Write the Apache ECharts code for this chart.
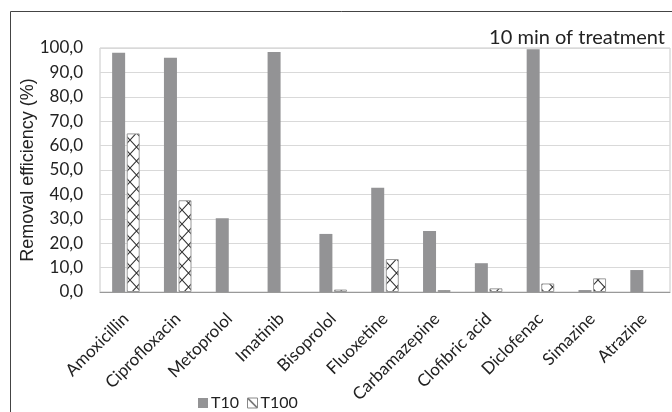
<!DOCTYPE html>
<html><head><meta charset="utf-8">
<script src="https://cdn.jsdelivr.net/npm/echarts@6/dist/echarts.min.js"></script>
<style>html,body{margin:0;padding:0;background:#fff}#c{width:672px;height:412px}</style>
</head><body><div id="c"></div>
<script>
const categories = ['Amoxicillin','Ciprofloxacin','Metoprolol','Imatinib','Bisoprolol','Fluoxetine','Carbamazepine','Clofibric acid','Diclofenac','Simazine','Atrazine'];
const t10 = [98.1, 96.0, 30.2, 98.4, 23.8, 42.7, 25.0, 11.8, 99.5, 0.8, 9.0];
const t100 = [65.0, 37.6, 0, 0, 1.0, 13.5, 0.8, 1.5, 3.5, 5.6, 0];
const seriesNames = ['T10','T100'];
const yTicks = {min: 0, max: 100, interval: 10};

function makePattern(){
  const c = document.createElement('canvas');
  c.width = 13; c.height = 14;
  const g = c.getContext('2d');
  g.fillStyle = '#fff'; g.fillRect(0,0,13,14);
  g.strokeStyle = '#333'; g.lineWidth = 1.1;
  g.beginPath(); g.moveTo(0,0); g.lineTo(13,14); g.moveTo(13,0); g.lineTo(0,14); g.stroke();
  return c;
}
function makeLegendIcon(){
  const c = document.createElement('canvas');
  c.width = 10; c.height = 10;
  const g = c.getContext('2d');
  g.fillStyle = '#fff'; g.fillRect(0,0,10,10);
  g.strokeStyle = '#333'; g.lineWidth = 1.2;
  g.beginPath(); g.moveTo(0,0); g.lineTo(10,10); g.stroke();
  return c;
}
const pat = makePattern();
const chart = echarts.init(document.getElementById('c'), null, {renderer:'canvas'});
const font = 'Lato, "Open Sans", sans-serif';
const txt = '#222';
chart.setOption({
  animation: false,
  title: {text: '10 min of treatment', right: 2, top: 23, textStyle: {fontFamily: font, fontSize: 20, fontWeight: 'normal', color: txt}},
  graphic: [{type:'rect', left: 8, top: 9, shape:{width: 700, height: 420}, style:{fill:'none', stroke:'#444', lineWidth:1}, silent:true}],
  grid: {left: 100, right: 2, top: 48, bottom: 120, show: true, borderColor: '#c8c8c8', borderWidth: 1},
  legend: {left: 193, top: 390, itemWidth: 10, itemHeight: 10, itemGap: 8,
    textStyle: {fontFamily: font, fontSize: 16, color: txt, padding:[0,0,0,-2]},
    data: [{name:'T10', icon:'rect'}, {name:'T100', icon:'rect', itemStyle:{color:{image: makeLegendIcon(), repeat:'no-repeat'}, borderColor:'#888', borderWidth:1}}]},
  xAxis: {type: 'category', data: categories,
    axisLine: {lineStyle: {color: '#999', width: 1}}, axisTick: {show: false},
    axisLabel: {rotate: 45, interval: 0, margin: 24, fontFamily: font, fontSize: 17, color: txt}},
  yAxis: {type: 'value', min: yTicks.min, max: yTicks.max, interval: yTicks.interval,
    name: 'Removal efficiency (%)', nameLocation: 'middle', nameGap: 63, nameRotate: 90, nameMoveOverlap: false,
    nameTextStyle: {fontFamily: '"Liberation Sans", Arial, sans-serif', fontSize: 18, color: txt},
    axisLine: {show: false}, axisTick: {show: false},
    axisLabel: {margin: 17, fontFamily: font, fontSize: 17, color: txt, formatter: v => v.toFixed(1).replace('.', ',')},
    splitLine: {lineStyle: {color: '#d9d9d9', width: 1}}},
  series: [
    {name: seriesNames[0], type: 'bar', data: t10.map(v => v === 0 ? '-' : v), barWidth: 13, barGap: '12%', itemStyle: {color: '#939395'}},
    {name: seriesNames[1], type: 'bar', data: t100.map(v => v === 0 ? '-' : v), barWidth: 13, itemStyle: {color: {image: pat, repeat: 'repeat'}, borderColor: '#999', borderWidth: 1}}
  ]
});
</script></body></html>
